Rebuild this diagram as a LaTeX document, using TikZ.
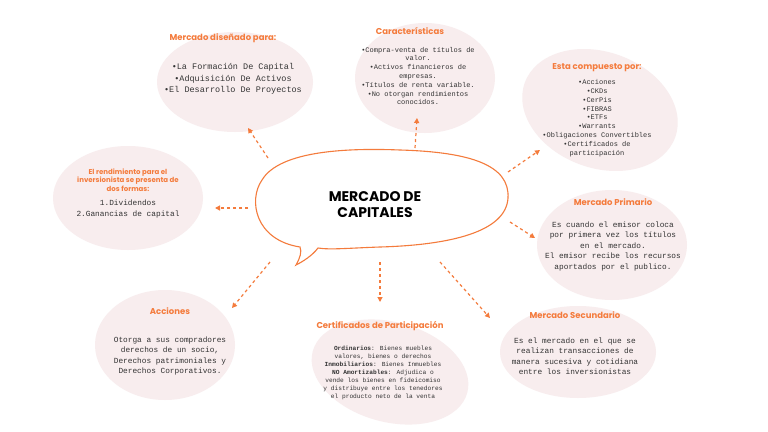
\documentclass[tikz,border=0pt]{standalone}
\usepackage{fontspec}
\setmainfont{Liberation Mono}
\newfontfamily\titlefont{Poppins}
\usetikzlibrary{arrows.meta}
\definecolor{oran}{HTML}{F47B3C}
\definecolor{blob}{HTML}{F8EDEE}
\tikzset{
 ttl/.style={font=\titlefont\bfseries\fontsize{8.5}{10}\selectfont, text=oran, align=center, inner sep=1pt},
 body/.style={font=\fontsize{7.8}{10.5}\selectfont, text=black!80, align=center, inner sep=1pt},
 small/.style={font=\fontsize{7}{8.8}\selectfont, text=black!80, align=center, inner sep=1pt},
 arr/.style={draw=oran, dashed, line width=1.2pt, -{Triangle[length=5pt,width=5pt]}},
 bl/.style={fill=blob}
}
\begin{document}
\begin{tikzpicture}[x=1pt,y=-1pt]
\fill[white] (0,0) rectangle (768,431);
% blobs
\fill[bl] (235,82) ellipse (78 and 50);
\fill[bl] (425,78) ellipse (70 and 55);
\fill[bl, rotate around={-20:(600,110)}] (600,110) ellipse (80 and 58);
\fill[bl] (128,198) ellipse (75 and 52);
\fill[bl] (612,245) ellipse (75 and 55);
\fill[bl] (165,345) ellipse (70 and 55);
\fill[bl, rotate around={-15:(390,372)}] (390,372) ellipse (80 and 50);
\fill[bl] (578,352) ellipse (78 and 46);
% central bubble
\draw[oran, line width=1.1pt, fill=white]
 (300,247) .. controls (255,240) and (248,200) .. (262,180)
 .. controls (280,150) and (350,148) .. (400,150)
 .. controls (470,152) and (510,165) .. (508,198)
 .. controls (506,232) and (450,245) .. (380,247)
 .. controls (350,248) and (330,250) .. (318,248)
 .. controls (312,256) and (302,262) .. (296,265)
 .. controls (300,258) and (302,252) .. (300,247) -- cycle;
\node[font=\titlefont\bfseries\fontsize{14}{16}\selectfont, align=center] (c) at (375,205) {MERCADO DE\\CAPITALES};
% texts
\node[ttl] (t1) at (223,38) {Mercado diseñado para:};
\node[body, font=\fontsize{8.5}{11.5}\selectfont] (b1) at (233,79) {•La Formación De Capital\\•Adquisición De Activos\\•El Desarrollo De Proyectos};
\node[ttl] (t2) at (410,31) {Características};
\node[small] (b2) at (418,76) {•Compra-venta de títulos de\\valor.\\•Activos financieros de\\empresas.\\•Títulos de renta variable.\\•No otorgan rendimientos\\conocidos.};
\node[ttl] (t3) at (597,68) {Esta compuesto por:};
\node[small] (b3) at (597,118) {•Acciones\\•CKDs\\•CerPis\\•FIBRAS\\•ETFs\\•Warrants\\•Obligaciones Convertibles\\•Certificados de\\participación};
\node[ttl, font=\titlefont\bfseries\fontsize{7}{8.5}\selectfont] (t4) at (128,180) {El rendimiento para el\\inversionista se presenta de\\dos formas:};
\node[body] (b4) at (128,209) {1.Dividendos\\2.Ganancias de capital};
\node[ttl] (t5) at (613,202) {Mercado Primario};
\node[body] (b5) at (613,246) {Es cuando el emisor coloca\\por primera vez los títulos\\en el mercado.\\El emisor recibe los recursos\\aportados por el publico.};
\node[ttl] (t6) at (170,311) {Acciones};
\node[body] (b6) at (170,356) {Otorga a sus compradores\\derechos de un socio,\\Derechos patrimoniales y\\Derechos Corporativos.};
\node[ttl] (t7) at (380,326) {Certificados de Participación};
\node[small, font=\fontsize{6.2}{8.1}\selectfont] (b7) at (383,373) {\textbf{Ordinarios}:  Bienes muebles\\valores, bienes o derechos\\\textbf{Inmobiliarios}: Bienes Inmuebles\\\textbf{NO Amortizables}: Adjudica o\\vende los bienes en fideicomiso\\y distribuye entre los tenedores\\el producto neto de la venta};
\node[ttl] (t8) at (575,315) {Mercado Secundario};
\node[body] (b8) at (575,356) {Es el mercado en el que se\\realizan transacciones de\\manera sucesiva y cotidiana\\entre los inversionistas};
% arrows
\coordinate (a1) at (268,158); \coordinate (e1) at (248,128);
\coordinate (a2) at (415,148); \coordinate (e2) at (417,118);
\coordinate (a3) at (508,172); \coordinate (e3) at (540,150);
\coordinate (a4) at (248,208); \coordinate (e4) at (215,208);
\coordinate (a5) at (510,222); \coordinate (e5) at (535,238);
\coordinate (a6) at (270,262); \coordinate (e6) at (232,308);
\coordinate (a7) at (380,262); \coordinate (e7) at (380,302);
\coordinate (a8) at (440,262); \coordinate (e8) at (490,318);
\foreach \i in {1,...,8} \draw[arr] (a\i) -- (e\i);
\end{tikzpicture}
\end{document}
